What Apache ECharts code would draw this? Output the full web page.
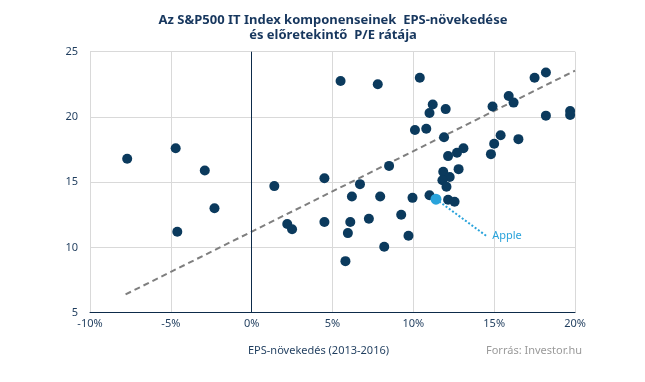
<!DOCTYPE html>
<html>
<head>
<meta charset="utf-8">
<script src="https://cdn.jsdelivr.net/npm/echarts@6/dist/echarts.min.js"></script>
<style>html,body{margin:0;padding:0;background:#fff}#c{width:645px;height:382px}</style>
</head>
<body>
<div id="c"></div>
<script>
// EPS growth (%) and forward P/E of S&P500 IT components
const epsGrowth = [-7.7,-4.7,-2.9,-4.6,-2.3,1.4,4.5,2.2,2.5,4.5,5.5,
  7.8,10.4,11.2,11.0,10.1,10.8,8.5,
  12.0,11.9,14.9,15.9,16.2,17.5,18.2,18.2,19.7,19.7,15.4,15.0,16.5,14.8,13.1,12.7,12.15,12.8,11.85,12.25,11.8,12.05,6.7,
  6.2,7.95,9.95,11.0,12.15,12.55,9.25,7.25,6.1,5.95,9.7,8.2,5.8];
const forwardPE = [16.8,17.6,15.9,11.2,13.0,14.7,15.3,11.8,11.4,11.95,22.75,
  22.5,23.0,20.95,20.3,19.0,19.1,16.25,
  20.6,18.45,20.8,21.6,21.1,23.0,23.4,20.1,20.45,20.15,18.6,17.95,18.3,17.15,17.6,17.25,17.0,16.0,15.8,15.4,15.15,14.65,14.85,
  13.9,13.9,13.8,14.0,13.65,13.5,12.5,12.2,11.95,11.1,10.9,10.05,8.95];
const appleName = "Apple";
const applePoint = [11.4, 13.7];
const appleLabelPoint = [14.5, 10.9];
const trendX = [-7.8, 20];
const trendY = [6.4, 23.55];
const xTicks = [-10, -5, 0, 5, 10, 15, 20];
const yTicks = [5, 10, 15, 20, 25];

const pts = epsGrowth.map((x, i) => [x, forwardPE[i]]);
const trend = trendX.map((x, i) => [x, trendY[i]]);
const navy = '#0b3a5d';
const txt = '#1f3d5e';
const font = 'Noto Sans';

const chart = echarts.init(document.getElementById('c'), null, {renderer: 'canvas'});
chart.setOption({
  animation: false,
  backgroundColor: '#fff',
  textStyle: {fontFamily: font},
  title: {
    text: 'Az S&P500 IT Index komponenseinek  EPS-növekedése\nés előretekintő  P/E rátája',
    left: 328, top: 8, textAlign: 'center',
    textStyle: {fontFamily: font, fontSize: 13, fontWeight: 'bold', color: '#17375e', lineHeight: 15}
  },
  graphic: [
    {type: 'text', left: 248, top: 345, style: {text: 'EPS-növekedés (2013-2016)', font: '11px "Noto Sans"', fill: txt}},
    {type: 'text', left: 486, top: 345, style: {text: 'Forrás: Investor.hu', font: '11px "Noto Sans"', fill: '#9a9a9a'}}
  ],
  grid: {left: 90, right: 70, top: 51.7, bottom: 69.3, containLabel: false},
  xAxis: {
    type: 'value', min: xTicks[0], max: xTicks[xTicks.length - 1], interval: 5,
    axisLine: {show: true, onZero: false, lineStyle: {color: '#0d2b4a', width: 1}},
    axisTick: {show: false},
    axisLabel: {formatter: '{value}%', color: txt, fontSize: 11, margin: 6},
    splitLine: {show: true, lineStyle: {color: '#d9d9d9', width: 1}}
  },
  yAxis: {
    type: 'value', min: yTicks[0], max: yTicks[yTicks.length - 1], interval: 5,
    axisLine: {show: false, onZero: false},
    axisTick: {show: false},
    axisLabel: {color: txt, fontSize: 11, margin: 12},
    splitLine: {show: true, lineStyle: {color: '#d9d9d9', width: 1}}
  },
  series: [
    {
      type: 'line', data: trend, symbol: 'none', silent: true, z: 3,
      lineStyle: {color: '#7f7f7f', width: 2, type: [6, 4]},
      markLine: {
        silent: true, symbol: 'none', label: {show: false},
        lineStyle: {color: '#0d2b4a', width: 1, type: 'solid'},
        data: [{xAxis: 0}]
      }
    },
    {
      type: 'line', z: 2,
      data: [applePoint, {value: appleLabelPoint, label: {show: true, position: 'right', formatter: appleName, color: '#29a3db', fontSize: 11, distance: 6}}],
      symbol: 'circle', symbolSize: 0.1, showSymbol: true,
      itemStyle: {color: '#29a3db'},
      lineStyle: {color: '#29a3db', width: 2, type: [2, 2]}
    },
    {
      type: 'scatter', data: pts, symbolSize: 10, z: 4,
      itemStyle: {color: navy, opacity: 1}
    },
    {
      type: 'scatter', data: [applePoint], symbolSize: 11, z: 5,
      itemStyle: {color: '#29a3db', opacity: 1}
    }
  ]
});
</script>
</body>
</html>
